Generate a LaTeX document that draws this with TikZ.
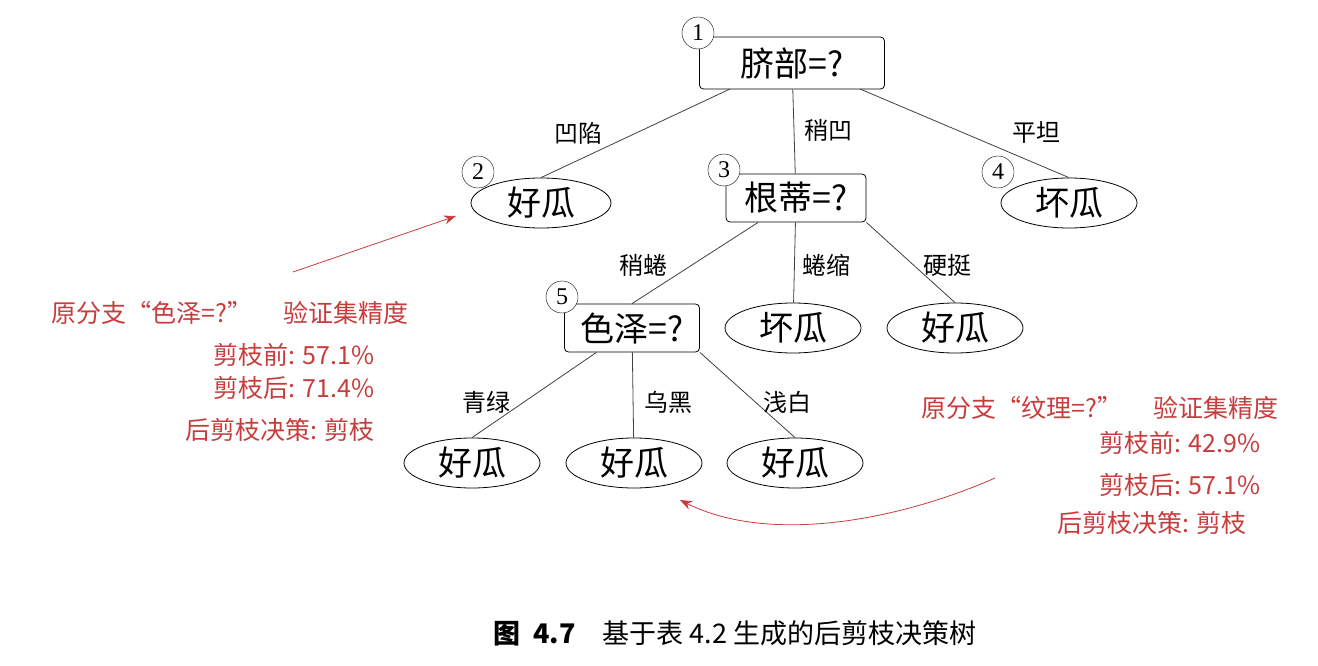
\documentclass[tikz,border=0pt]{standalone}
\usepackage{fontspec}
\setmainfont{Liberation Serif}
\newfontfamily\cjk{Noto Sans CJK SC}
\usetikzlibrary{shapes.geometric,arrows.meta}
\definecolor{rd}{RGB}{200,60,60}
\begin{document}
\begin{tikzpicture}[x=1pt,y=-1pt,
 dec/.style={draw,thick,rounded corners=4pt,minimum width=140pt,minimum height=48pt,font=\cjk\fontsize{34}{36}\selectfont,inner sep=1pt},
 leaf/.style={draw,thick,ellipse,minimum width=136pt,minimum height=50pt,font=\cjk\fontsize{34}{36}\selectfont,inner sep=0pt},
 num/.style={draw,circle,fill=white,minimum size=32pt,inner sep=0pt,font=\fontsize{24}{24}\selectfont},
 lab/.style={font=\cjk\fontsize{24}{26}\selectfont},
 red/.style={text=rd,font=\cjk\fontsize{25}{27}\selectfont},
 edge/.style={draw,thick,black!75}]
\useasboundingbox (0,0) rectangle (1318,666);
\node[dec,minimum width=185pt,minimum height=52pt] (r) at (792,63) {脐部=?};
\node[leaf,minimum width=140pt] (n2) at (541,203) {好瓜};
\node[dec] (n3) at (796,198) {根蒂=?};
\node[leaf] (n4) at (1069,203) {坏瓜};
\node[dec,minimum width=135pt] (n5) at (632,328) {色泽=?};
\node[leaf] (b1) at (793,328) {坏瓜};
\node[leaf] (g1) at (955,328) {好瓜};
\node[leaf] (l1) at (472,463) {好瓜};
\node[leaf] (l2) at (634,463) {好瓜};
\node[leaf] (l3) at (795,463) {好瓜};
\path[edge] (730,89) -- (n2.north);
\path[edge] (r) -- (n3);
\path[edge] (860,89) -- (n4.north);
\path[edge] (n3) -- (n5.north);
\path[edge] (n3) -- (b1);
\path[edge] (n3.south east) -- (g1.north);
\path[edge] (n5) -- (l1.north);
\path[edge] (n5) -- (l2);
\path[edge] (n5.south east) -- (l3.north);
\node[num] (c1) at (698,33) {1};
\node[num] (c2) at (478,172) {2};
\node[num] (c3) at (724,170) {3};
\node[num] (c4) at (998,172) {4};
\node[num] (c5) at (562,297) {5};
\node[lab] (e1) at (578,133) {凹陷};
\node[lab] (e2) at (828,130) {稍凹};
\node[lab] (e3) at (1036,133) {平坦};
\node[lab] (e4) at (643,265) {稍蜷};
\node[lab] (e5) at (826,265) {蜷缩};
\node[lab] (e6) at (947,265) {硬挺};
\node[lab] (e7) at (486,402) {青绿};
\node[lab] (e8) at (668,402) {乌黑};
\node[lab] (e9) at (787,402) {浅白};
\node[red] (t1) at (230,313) {原分支“色泽=?”\quad\ 验证集精度};
\node[red,anchor=east] (t2) at (378,355) {剪枝前: 57.1\%};
\node[red,anchor=east] (t3) at (378,388) {剪枝后: 71.4\%};
\node[red,anchor=east] (t4) at (378,430) {后剪枝决策: 剪枝};
\node[red] (s1) at (1100,408) {原分支“纹理=?”\quad\ 验证集精度};
\node[red,anchor=east] (s2) at (1264,443) {剪枝前: 42.9\%};
\node[red,anchor=east] (s3) at (1264,485) {剪枝后: 57.1\%};
\node[red,anchor=east] (s4) at (1250,523) {后剪枝决策: 剪枝};
\coordinate (a1) at (293,272);
\coordinate (a2) at (456,216);
\coordinate (a3) at (995,478);
\coordinate (a4) at (680,500);
\draw[rd,thick,-{Stealth[length=12pt]}] (a1) -- (a2);
\draw[rd,thick,-{Stealth[length=12pt]}] (a3) .. controls (900,520) and (770,545) .. (a4);
\node (cap) at (735,633) {\fontsize{27}{29}\selectfont\cjk\textbf{图\ \ 4.7}\quad 基于表 4.2 生成的后剪枝决策树};
\end{tikzpicture}
\end{document}
